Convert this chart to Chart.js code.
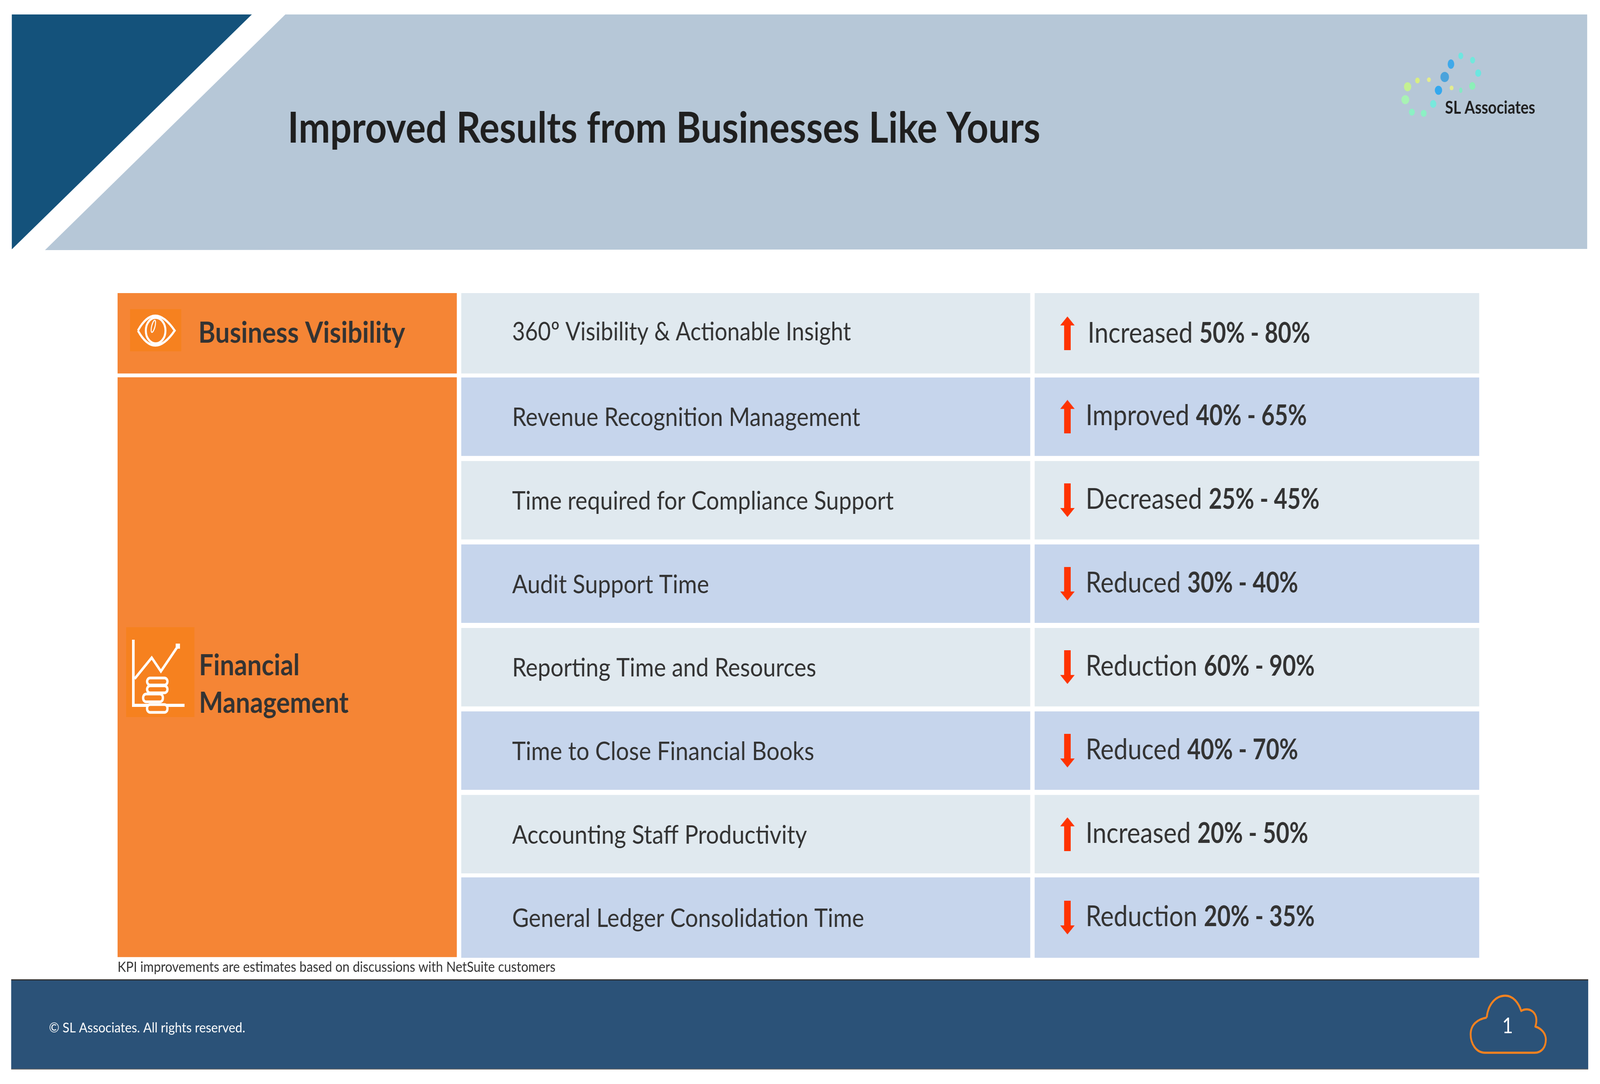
<!DOCTYPE html>
<html>
<head>
<meta charset="utf-8">
<title>Improved Results from Businesses Like Yours</title>
<script src="https://cdn.jsdelivr.net/npm/chart.js@4"></script>
<style>
  html, body { margin: 0; padding: 0; background: #ffffff; overflow: hidden; }
  canvas { display: block; }
</style>
</head>
<body>
<!-- drawn in 4873x2774 slide units, the css size fits it to the window (1:1 at the full size) -->
<canvas id="slide" width="4873" height="2774" style="width:100vw;height:100vh"></canvas>
<script>
// table content
const kpiLabels = [
  "360º Visibility & Actionable Insight",
  "Revenue Recognition Management",
  "Time required for Compliance Support",
  "Audit Support Time",
  "Reporting Time and Resources",
  "Time to Close Financial Books",
  "Accounting Staff Productivity",
  "General Ledger Consolidation Time"
];
const trendWords = ["Increased", "Improved", "Decreased", "Reduced", "Reduction", "Reduced", "Increased", "Reduction"];
const rangeLow = [50, 40, 25, 30, 60, 40, 20, 20];
const rangeHigh = [80, 65, 45, 40, 90, 70, 50, 35];
const trendUp = [true, true, false, false, false, false, true, false];

const titleText = "Improved Results from Businesses Like Yours";
const logoText = "SL Associates";
const noteText = "KPI improvements are estimates based on discussions with NetSuite customers";
const copyrightText = "© SL Associates. All rights reserved.";
const pageNumber = "1";

// columns, in percent of the table width
const groupCol = [0, 24.91];
const kpiCol = [25.25, 67.02];
const resultCol = [67.36, 100];
const arrowAt = 69.76;
const kpiTextAt = 28.98;
const resultTextAt = 71.1;

// how wide the kpi labels run on the slide, in slide px
const kpiTextWidths = [1032, 1060, 1162, 600, 926, 920, 898, 1072];

const ORANGE = "#F58535";
const ROW_LIGHT = "#E0E9EF";
const ROW_BLUE = "#C6D5EC";
const INK = "#333333";
const FONT = "Lato";

function cell(col, row) {
  return { x: col, y: kpiLabels[row] };
}

function cells(label, col, rows, thickness, colors) {
  return {
    type: "bar",
    label: label,
    data: rows.map(r => cell(col, r)),
    barThickness: thickness,
    backgroundColor: colors || rows.map(r => (r % 2 ? ROW_BLUE : ROW_LIGHT)),
    borderWidth: 0,
    order: 2
  };
}

function arrowImage(up) {
  const c = document.createElement("canvas");
  c.width = 44;
  c.height = 86;
  const g = c.getContext("2d");
  if (!up) { g.translate(0, 86); g.scale(1, -1); }
  g.fillStyle = "#FF3300";
  g.beginPath();
  g.moveTo(22, 0); g.lineTo(44, 23); g.lineTo(32, 23); g.lineTo(32, 86);
  g.lineTo(12, 86); g.lineTo(12, 23); g.lineTo(0, 23);
  g.closePath();
  g.fill();
  return c;
}

function poly(ctx, color, pts) {
  ctx.fillStyle = color;
  ctx.beginPath();
  pts.forEach((p, i) => (i ? ctx.lineTo(p[0], p[1]) : ctx.moveTo(p[0], p[1])));
  ctx.closePath();
  ctx.fill();
}

// sx stretches the glyphs sideways to the width they have on the slide
function label(ctx, str, x, y, font, color, sx) {
  ctx.save();
  ctx.font = font;
  ctx.fillStyle = color;
  ctx.textBaseline = "alphabetic";
  ctx.translate(x, y);
  ctx.scale(sx || 1, 1);
  ctx.fillText(str, 0, 0);
  const w = ctx.measureText(str).width * (sx || 1);
  ctx.restore();
  return w;
}

function fitted(ctx, str, x, y, font, color, width) {
  ctx.font = font;
  label(ctx, str, x, y, font, color, width / ctx.measureText(str).width);
}

function drawLogoDots(ctx) {
  const dots = [
    [4449, 143, 7.5, 8.5, "#6FE6E0"], [4485, 154, 7.5, 8.5, "#72E8DC"], [4419, 164, 10, 12, "#3FA9EA"],
    [4502, 187, 9, 9.5, "#6CE6E0"], [4400, 197, 13, 13, "#4AA3DC"], [4352, 204, 6, 6, "#E3EC8E"],
    [4317, 206, 7, 7.5, "#D8EE82"], [4287, 222, 11, 11.5, "#C4F092"], [4381, 231, 11, 11.5, "#34A8EE"],
    [4421, 225, 6, 6, "#E3EC8E"], [4449, 231, 5, 7, "#86E8C4"], [4484, 220, 9.5, 10, "#8CEFB8"],
    [4280, 255, 12, 11.5, "#A8F2B4"], [4365, 266, 9.5, 10, "#78E8DC"], [4300, 287, 9, 9, "#8CF0C4"],
    [4336, 290, 9, 9, "#8CF0C4"]
  ];
  dots.forEach(d => {
    ctx.fillStyle = d[4];
    ctx.beginPath();
    ctx.ellipse(d[0], d[1], d[2], d[3], 0, 0, Math.PI * 2);
    ctx.fill();
  });
}

function drawEyeIcon(ctx) {
  ctx.fillStyle = "#F6811F";
  ctx.fillRect(396, 791, 156, 108);
  ctx.strokeStyle = "#FFFFFF";
  ctx.lineWidth = 6;
  ctx.beginPath();
  ctx.moveTo(420, 846);
  ctx.quadraticCurveTo(470, 770, 532, 846);
  ctx.quadraticCurveTo(470, 922, 420, 846);
  ctx.stroke();
  ctx.beginPath();
  ctx.ellipse(474, 846, 30, 33, 0, 0, Math.PI * 2);
  ctx.stroke();
  ctx.lineWidth = 3;
  ctx.beginPath();
  ctx.ellipse(467, 835, 5, 16, 0.3, 0, Math.PI * 2);
  ctx.stroke();
}

function drawMoneyIcon(ctx) {
  ctx.fillStyle = "#F6811F";
  ctx.fillRect(384, 1605, 208, 230);
  ctx.strokeStyle = "#FFFFFF";
  ctx.lineWidth = 8;
  ctx.beginPath();
  ctx.moveTo(406, 1637); ctx.lineTo(406, 1805); ctx.lineTo(562, 1805);
  ctx.stroke();
  ctx.lineWidth = 7;
  ctx.beginPath();
  ctx.moveTo(410, 1737); ctx.lineTo(462, 1683); ctx.lineTo(490, 1718); ctx.lineTo(543, 1652);
  ctx.stroke();
  ctx.fillStyle = "#FFFFFF";
  ctx.fillRect(535, 1647, 13, 13);
  ctx.lineWidth = 7;
  [[448, 1735, 62, 18], [448, 1755, 62, 18], [436, 1776, 60, 20], [448, 1803, 62, 20]].forEach(c => {
    ctx.fillStyle = "#F6811F";
    ctx.beginPath();
    ctx.roundRect(c[0], c[1], c[2], c[3], 9);
    ctx.fill();
    ctx.stroke();
  });
}

function drawCloud(ctx) {
  ctx.strokeStyle = "#F58220";
  ctx.lineWidth = 5.5;
  ctx.lineJoin = "round";
  ctx.beginPath();
  ctx.moveTo(4528, 2604);
  ctx.bezierCurveTo(4532, 2570, 4555, 2548, 4585, 2548);
  ctx.bezierCurveTo(4608, 2548, 4625, 2566, 4633, 2587);
  ctx.bezierCurveTo(4655, 2575, 4690, 2590, 4676, 2627);
  ctx.bezierCurveTo(4695, 2632, 4708, 2645, 4708, 2660);
  ctx.bezierCurveTo(4708, 2680, 4695, 2694, 4674, 2694);
  ctx.lineTo(4523, 2694);
  ctx.bezierCurveTo(4495, 2694, 4479, 2670, 4479, 2647);
  ctx.bezierCurveTo(4479, 2622, 4500, 2608, 4528, 2604);
  ctx.stroke();
}

const slideBackdrop = {
  id: "slideBackdrop",
  beforeDraw(chart) {
    const ctx = chart.ctx;
    ctx.save();
    poly(ctx, "#14527B", [[36, 37], [767, 37], [36, 638]]);
    poly(ctx, "#B6C7D7", [[869, 37], [4834, 37], [4834, 637], [137, 640]]);
    drawLogoDots(ctx);
    ctx.fillStyle = "#2B5278";
    ctx.fillRect(34, 2507, 4803, 230);
    ctx.fillStyle = "#333333";
    ctx.fillRect(34, 2506, 4803, 3);
    ctx.fillStyle = "#666666";
    ctx.fillRect(34, 2735, 4803, 2);
    drawCloud(ctx);
    ctx.restore();
  }
};

const slideText = {
  id: "slideText",
  afterDraw(chart) {
    const ctx = chart.ctx;
    const xs = chart.scales.x;
    const ys = chart.scales.y;
    drawEyeIcon(ctx);
    drawMoneyIcon(ctx);

    label(ctx, titleText, 876, 365, `bold 109px ${FONT}`, "#1F1F1F", 1.055);
    label(ctx, logoText, 4401, 291, `bold 45px ${FONT}`, "#1F1F1F", 1.01);
    label(ctx, "Business Visibility", 604, 877, `bold 74px ${FONT}`, INK, 1.065);
    label(ctx, "Financial", 606, 1728, `bold 74px ${FONT}`, INK, 1.05);
    label(ctx, "Management", 606, 1824, `bold 74px ${FONT}`, INK, 1.05);

    kpiLabels.forEach((name, i) => {
      const y = ys.getPixelForValue(i);
      fitted(ctx, name, xs.getPixelForValue(kpiTextAt), y + (i ? 24 : 18), `66px ${FONT}`, INK, kpiTextWidths[i]);
      const x = xs.getPixelForValue(resultTextAt) + (i ? 0 : 6);
      const base = y + (i ? 22 : 24);
      const w = label(ctx, trendWords[i], x, base, `73px ${FONT}`, INK, 1.045);
      label(ctx, `${rangeLow[i]}% - ${rangeHigh[i]}%`, x + w + 20, base, `bold 73px ${FONT}`, INK, 0.96);
    });

    label(ctx, noteText, 358, 2487, `36px ${FONT}`, INK, 1.07);
    label(ctx, copyrightText, 149, 2642, `35px ${FONT}`, "#FFFFFF", 1.09);
    label(ctx, pageNumber, 4575, 2644, `57px ${FONT}`, "#FFFFFF");
  }
};

new Chart(document.getElementById("slide"), {
  type: "bar",
  data: {
    labels: kpiLabels,
    datasets: [
      cells("Business Visibility", groupCol, [0], 205, [ORANGE]),
      cells("Financial Management", groupCol, [4], 1483, [ORANGE]),
      cells("KPI first and last", kpiCol, [0, 7], 205),
      cells("KPI", kpiCol, [1, 2, 3, 4, 5, 6], 200),
      cells("Result first and last", resultCol, [0, 7], 205),
      cells("Result", resultCol, [1, 2, 3, 4, 5, 6], 200),
      {
        type: "scatter",
        label: "Trend",
        data: kpiLabels.map(name => ({ x: arrowAt, y: name })),
        pointStyle: trendUp.map(arrowImage),
        showLine: false,
        order: 1
      }
    ]
  },
  options: {
    indexAxis: "y",
    responsive: false,
    animation: false,
    devicePixelRatio: 1,
    grouped: false,
    layout: { padding: { left: 358, right: 368, top: 746, bottom: 319 } },
    plugins: { legend: { display: false }, tooltip: { enabled: false } },
    scales: {
      x: { type: "linear", min: 0, max: 100, display: false },
      y: { type: "category", display: false }
    }
  },
  plugins: [slideBackdrop, slideText]
});
</script>
</body>
</html>
